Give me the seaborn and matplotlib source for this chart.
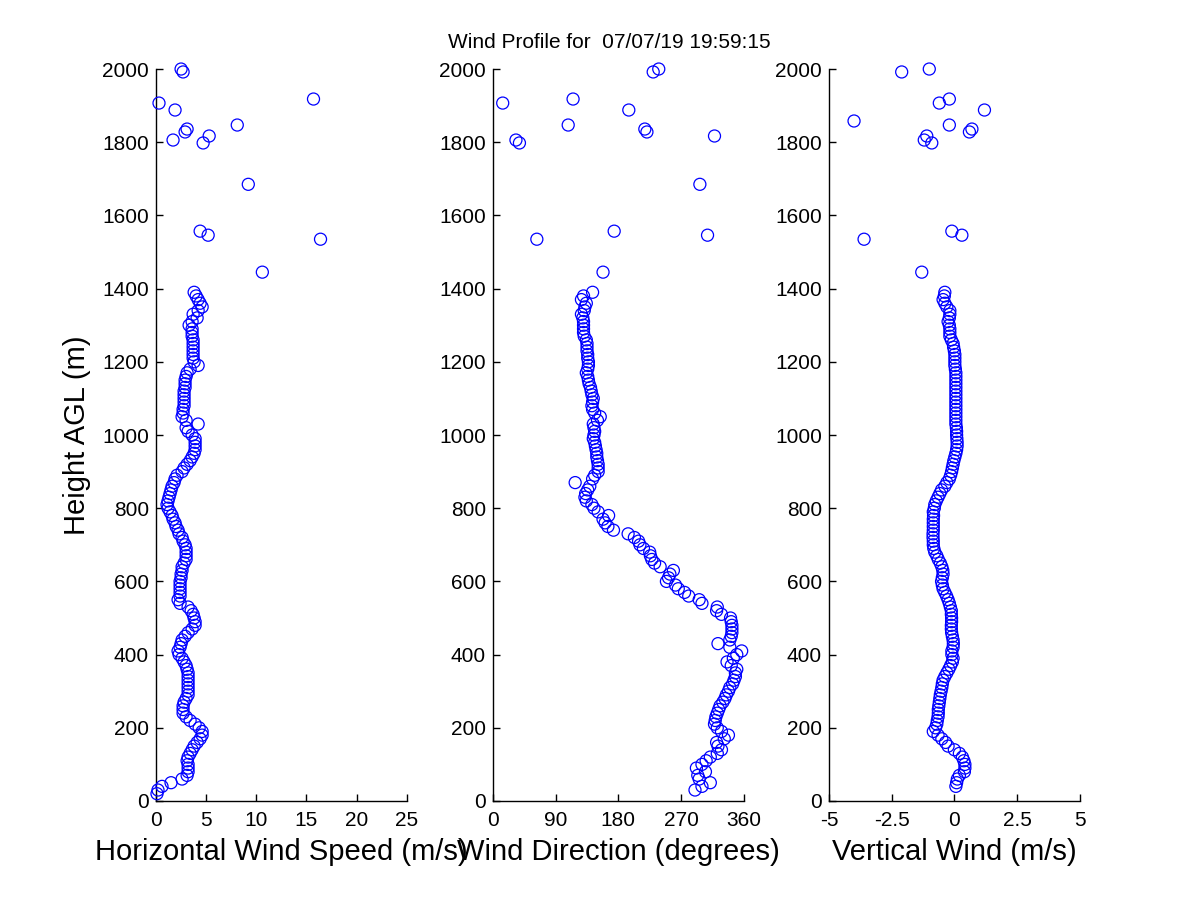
import numpy as np
import matplotlib
matplotlib.use("Agg")
import matplotlib.pyplot as plt
import seaborn as sns

nan = np.nan

# range gates (m) of the dense part of the profile
heights = [10, 20, 30, 40, 50, 60, 70, 80, 90, 100,
           110, 120, 130, 140, 150, 160, 170, 180, 190, 200,
           210, 220, 230, 240, 250, 260, 270, 280, 290, 300,
           310, 320, 330, 340, 350, 360, 370, 380, 390, 400,
           410, 420, 430, 440, 450, 460, 470, 480, 490, 500,
           510, 520, 530, 540, 550, 560, 570, 580, 590, 600,
           610, 620, 630, 640, 650, 660, 670, 680, 690, 700,
           710, 720, 730, 740, 750, 760, 770, 780, 790, 800,
           810, 820, 830, 840, 850, 860, 870, 880, 890, 900,
           910, 920, 930, 940, 950, 960, 970, 980, 990, 1000,
           1010, 1020, 1030, 1040, 1050, 1060, 1070, 1080, 1090, 1100,
           1110, 1120, 1130, 1140, 1150, 1160, 1170, 1180, 1190, 1200,
           1210, 1220, 1230, 1240, 1250, 1260, 1270, 1280, 1290, 1300,
           1310, 1320, 1330, 1340, 1350, 1360, 1370, 1380, 1390]

speed = [nan, 0.1, 0.2, 0.6, 1.5, 2.6, 3.1, 3.2, 3.2, 3.2,
         3.1, 3.2, 3.4, 3.6, 3.8, 4.1, 4.4, 4.6, 4.6, 4.3,
         3.9, 3.4, 3.0, 2.7, 2.7, 2.7, 2.8, 3.0, 3.2, 3.2,
         3.2, 3.2, 3.2, 3.2, 3.2, 3.1, 3.0, 2.8, 2.6, 2.3,
         2.2, 2.4, 2.5, 2.6, 2.9, 3.2, 3.6, 3.9, 3.9, 3.8,
         3.7, 3.5, 3.2, 2.4, 2.2, 2.4, 2.4, 2.4, 2.4, 2.4,
         2.5, 2.5, 2.6, 2.6, 2.8, 3.0, 3.0, 3.0, 3.0, 2.9,
         2.7, 2.6, 2.3, 2.2, 2.0, 1.9, 1.7, 1.6, 1.4, 1.2,
         1.1, 1.2, 1.3, 1.4, 1.5, 1.6, 1.8, 1.9, 2.1, 2.6,
         2.8, 3.1, 3.4, 3.6, 3.8, 3.9, 3.9, 3.9, 3.9, 3.6,
         3.2, 3.0, 4.2, 3.0, 2.6, 2.7, 2.7, 2.8, 2.8, 2.8,
         2.8, 2.8, 2.9, 2.9, 2.9, 3.0, 3.1, 3.4, 4.2, 3.8,
         3.7, 3.7, 3.7, 3.7, 3.7, 3.7, 3.6, 3.6, 3.6, 3.3,
         3.6, 4.1, 3.7, 4.2, 4.6, 4.4, 4.2, 4.0, 3.8]

direction = [nan, nan, 290, 300, 312, 296, 294, 305, 292, 300,
             306, 312, 322, 328, 323, 321, 332, 338, 328, 322,
             318, 319, 320, 322, 324, 326, 330, 333, 335, 338,
             340, 344, 346, 348, 348, 350, 342, 336, 345, 350,
             357, 340, 323, 340, 342, 343, 343, 343, 342, 341,
             328, 321, 322, 300, 296, 281, 275, 266, 262, 249,
             252, 254, 259, 240, 232, 228, 226, 225, 216, 211,
             209, 203, 194, 173, 165, 161, 158, 166, 151, 145,
             142, 134, 132, 133, 136, 139, 118, 143, 146, 151,
             151, 151, 150, 149, 149, 148, 147, 146, 144, 145,
             146, 145, 144, 150, 154, 146, 143, 142, 143, 144,
             142, 141, 140, 138, 137, 136, 134, 136, 137, 137,
             136, 136, 135, 135, 135, 134, 131, 130, 130, 130,
             130, 129, 127, 131, 132, 134, 127, 130, 143]

vertical = [nan, nan, nan, 0.06, 0.09, 0.12, 0.2, 0.4, 0.42, 0.42,
            0.38, 0.32, 0.2, 0.0, -0.25, -0.35, -0.5, -0.65, -0.84, -0.75,
            -0.7, -0.68, -0.65, -0.64, -0.64, -0.62, -0.6, -0.58, -0.56, -0.53,
            -0.5, -0.48, -0.45, -0.38, -0.3, -0.22, -0.15, -0.08, -0.05, -0.1,
            -0.1, -0.05, -0.04, -0.05, -0.08, -0.11, -0.12, -0.12, -0.11, -0.11,
            -0.12, -0.12, -0.16, -0.2, -0.25, -0.31, -0.38, -0.45, -0.48, -0.51,
            -0.48, -0.45, -0.46, -0.5, -0.56, -0.64, -0.7, -0.78, -0.82, -0.84,
            -0.84, -0.85, -0.85, -0.84, -0.84, -0.84, -0.84, -0.83, -0.84, -0.8,
            -0.78, -0.72, -0.65, -0.58, -0.51, -0.38, -0.3, -0.2, -0.15, -0.11,
            -0.08, -0.05, -0.02, 0.02, 0.06, 0.09, 0.11, 0.11, 0.1, 0.09,
            0.09, 0.08, 0.06, 0.06, 0.06, 0.06, 0.06, 0.06, 0.06, 0.06,
            0.06, 0.06, 0.06, 0.06, 0.06, 0.06, 0.06, 0.04, 0.02, 0.02,
            0.02, 0.02, 0.0, -0.03, -0.05, -0.12, -0.18, -0.18, -0.18, -0.2,
            -0.25, -0.2, -0.18, -0.18, -0.3, -0.38, -0.45, -0.4, -0.38]

# scattered returns above 1400 m
top_heights = [2000, 1992, 1918, 1907, 1888, 1847, 1836, 1828, 1817, 1806, 1798, 1685, 1557, 1546, 1535, 1445]
speed_top = [2.5, 2.7, 15.7, 0.3, 1.9, 8.1, 3.1, 2.9, 5.3, 1.7, 4.7, 9.2, 4.4, 5.2, 16.4, 10.6]
direction_top = [238, 230, 115, 14, 195, 108, 218, 221, 318, 33, 38, 297, 174, 308, 63, 158]
vertical_top_heights = [2000, 1992, 1918, 1907, 1888, 1858, 1847, 1836, 1828, 1817, 1806, 1798, 1557, 1546, 1535, 1445]
vertical_top = [-1.0, -2.1, -0.2, -0.6, 1.2, -4.0, -0.2, 0.7, 0.6, -1.1, -1.2, -0.9, -0.1, 0.3, -3.6, -1.3]

speed_ticks = [0, 5, 10, 15, 20, 25]
direction_ticks = [0, 90, 180, 270, 360]
vertical_ticks = [-5, -2.5, 0, 2.5, 5]
vertical_tick_labels = ['-5', '-2.5', '0', '2.5', '5']
height_ticks = [0, 200, 400, 600, 800, 1000, 1200, 1400, 1600, 1800, 2000]

sns.set_theme(style="ticks")
plt.rcParams['font.family'] = ['Liberation Sans', 'DejaVu Sans']
plt.rcParams['axes.unicode_minus'] = False
plt.rcParams['text.color'] = 'black'
plt.rcParams['axes.labelcolor'] = 'black'

fig = plt.figure(figsize=(12, 9), dpi=100)

panels = [
    (0.13, speed + speed_top, heights + top_heights, (0, 25), speed_ticks, None,
     'Horizontal Wind Speed (m/s)'),
    (0.4108, direction + direction_top, heights + top_heights, (0, 360), direction_ticks, None,
     'Wind Direction (degrees)'),
    (0.6908, vertical + vertical_top, heights + vertical_top_heights, (-5, 5), vertical_ticks,
     vertical_tick_labels, 'Vertical Wind (m/s)'),
]

for i, (left, xs, ys, xlim, xticks, xlabels, xname) in enumerate(panels):
    ax = fig.add_axes([left, 0.11, 0.209, 0.8133])
    sns.scatterplot(x=xs, y=ys, ax=ax, marker='o', s=75, facecolor='none',
                    edgecolor='blue', linewidth=0.9, clip_on=False, zorder=3)
    ax.set_xlim(*xlim)
    ax.set_ylim(0, 2000)
    ax.set_xticks(xticks)
    if xlabels is not None:
        ax.set_xticklabels(xlabels)
    ax.set_yticks(height_ticks)
    for side in ['top', 'right']:
        ax.spines[side].set_visible(False)
    for side in ['left', 'bottom']:
        ax.spines[side].set_color('black')
        ax.spines[side].set_linewidth(1.0)
    ax.tick_params(direction='in', length=5, width=1, colors='black', labelsize=15)
    ax.tick_params(axis='x', pad=7)
    ax.tick_params(axis='y', pad=5)
    ax.set_xlabel(xname, fontsize=21, labelpad=6, color='black')
    if i == 0:
        ax.set_ylabel('Height AGL (m)', fontsize=21, labelpad=8, color='black')
    else:
        ax.set_ylabel('')

fig.text(0.508, 1 - 43 / 900, 'Wind Profile for  07/07/19 19:59:15',
         ha='center', va='center', fontsize=15, color='black')

fig.savefig('out.png', dpi=100)
